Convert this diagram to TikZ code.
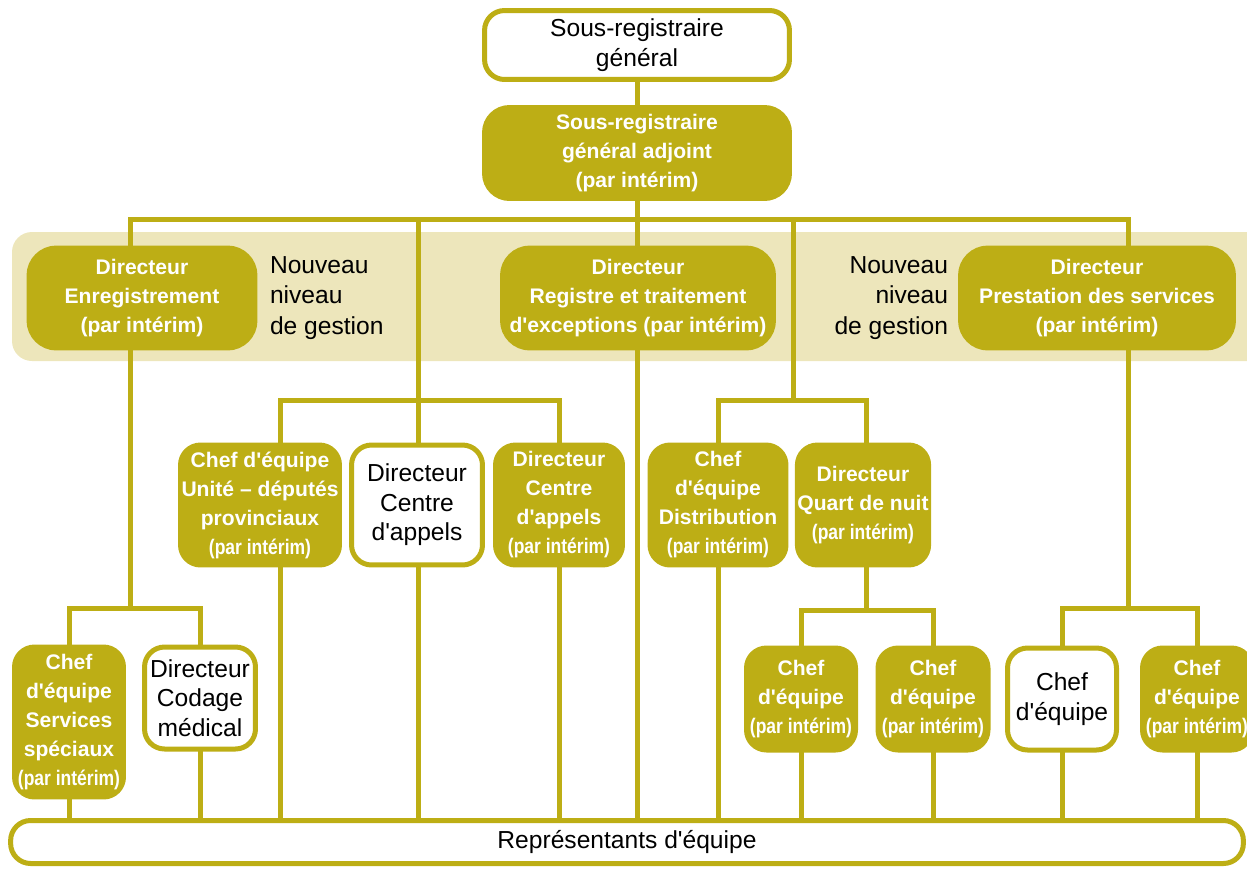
\documentclass[tikz,border=0pt]{standalone}
\usepackage{fontspec}
\setmainfont{Liberation Sans}
\newfontfamily\narrowfont[FakeStretch=0.83]{Liberation Sans}
\usetikzlibrary{backgrounds}
\definecolor{mustard}{RGB}{189,174,21}
\definecolor{bandfill}{RGB}{237,230,187}
\newcommand{\ap}{\textquotesingle}
\newcommand{\interim}{{\narrowfont\bfseries (par intérim)}}

\begin{document}
\begin{tikzpicture}[x=0.02cm, y=-0.02cm,
  every node/.style={inner sep=0pt, outer sep=0pt},
  solidbox/.style={draw=mustard, fill=mustard, line width=0.1cm, rounded corners=0.4cm,
                   align=center, text=white, font=\bfseries\fontsize{12}{16.5}\selectfont},
  hollowbox/.style={solidbox, fill=white, text=black, font=\fontsize{14}{16.8}\selectfont},
  note/.style={font=\fontsize{14}{17.2}\selectfont},
  link/.style={draw=mustard, line width=0.1cm}
]
\useasboundingbox (0,0) rectangle (1247,869);

% top of the chart
\node[hollowbox, minimum width=6.1cm, minimum height=1.38cm] (top) at (637,45) {Sous-registraire\\général};
\node[solidbox, minimum width=6.1cm, minimum height=1.82cm, rounded corners=0.5cm] (adj) at (637,153)
  {Sous-registraire\\général adjoint\\(par intérim)};

% directors
\node[solidbox, minimum width=4.52cm, minimum height=2cm, rounded corners=0.55cm] (enr) at (142,298)
  {Directeur\\Enregistrement\\(par intérim)};
\node[note, anchor=west, align=left] (nng1) at (270,298) {Nouveau\\niveau\\de gestion};
\node[solidbox, minimum width=5.42cm, minimum height=2cm, rounded corners=0.55cm] (reg) at (638,298)
  {Directeur\\Registre et traitement\\d\ap exceptions (par intérim)};
\node[note, anchor=east, align=right] (nng2) at (948,298) {Nouveau\\niveau\\de gestion};
\node[solidbox, minimum width=5.46cm, minimum height=2cm, rounded corners=0.55cm] (pre) at (1097,298)
  {Directeur\\Prestation des services\\(par intérim)};

% third row
\node[solidbox, minimum width=3.18cm, minimum height=2.4cm] (uni) at (260,505)
  {Chef d\ap équipe\\Unité – députés\\provinciaux\\\interim};
\node[hollowbox, minimum width=2.62cm, minimum height=2.4cm] (cda1) at (417,505)
  {Directeur\\Centre\\d\ap appels};
\node[solidbox, minimum width=2.54cm, minimum height=2.4cm] (cda2) at (559,505)
  {Directeur\\Centre\\d\ap appels\\\interim};
\node[solidbox, minimum width=2.72cm, minimum height=2.4cm] (dis) at (718,505)
  {Chef\\d\ap équipe\\Distribution\\\interim};
\node[solidbox, minimum width=2.52cm, minimum height=2.4cm] (qdn) at (863,505)
  {Directeur\\Quart de nuit\\\interim};

% fourth row
\node[solidbox, minimum width=2.18cm, minimum height=3cm] (ssp) at (69,722)
  {Chef\\d\ap équipe\\Services\\spéciaux\\\interim};
\node[hollowbox, minimum width=2.22cm, minimum height=2.04cm] (cod) at (200,698)
  {Directeur\\Codage\\médical};
\node[solidbox, minimum width=2.18cm, minimum height=2.04cm] (ch1) at (801,699)
  {Chef\\d\ap équipe\\\interim};
\node[solidbox, minimum width=2.2cm, minimum height=2.04cm] (ch2) at (933,699)
  {Chef\\d\ap équipe\\\interim};
\node[hollowbox, minimum width=2.18cm, minimum height=2.04cm] (ch3) at (1062,699)
  {Chef\\d\ap équipe};
\node[solidbox, minimum width=2.18cm, minimum height=2.04cm] (ch4) at (1197,699)
  {Chef\\d\ap équipe\\\interim};

\node[hollowbox, minimum width=24.66cm, minimum height=0.86cm] (rep) at (627,842)
  {Représentants d\ap équipe};

\begin{scope}[on background layer]
\fill[bandfill, rounded corners=0.4cm] (12,232) rectangle (1270,361);

\coordinate (busW) at (130,219);
\coordinate (busE) at (1128,219);
\coordinate (s1) at (130,608);
\coordinate (s2) at (1128,608);
\coordinate (g1) at (418,400);
\coordinate (u1) at (280,400);
\coordinate (g2) at (793,400);
\coordinate (g3) at (866,610);

\draw[link] (top) -- (adj);
\draw[link] (adj) -- (adj |- rep.north);
\draw[link] (s1) -- (busW) -- (busE) -- (s2);
\draw[link] (ssp |- rep.north) |- (s1) -| (cod |- rep.north);
\draw[link] (busW -| g1) -- (g1 |- rep.north);
\draw[link] (u1 |- rep.north) -- (u1) -| (cda2 |- rep.north);
\draw[link] (busW -| g2) -- (g2);
\draw[link] (dis |- rep.north) |- (g2) -| (g3);
\draw[link] (ch1 |- rep.north) |- (g3) -| (ch2 |- rep.north);
\draw[link] (ch3 |- rep.north) |- (s2) -| (ch4 |- rep.north);
\end{scope}

\end{tikzpicture}
\end{document}
